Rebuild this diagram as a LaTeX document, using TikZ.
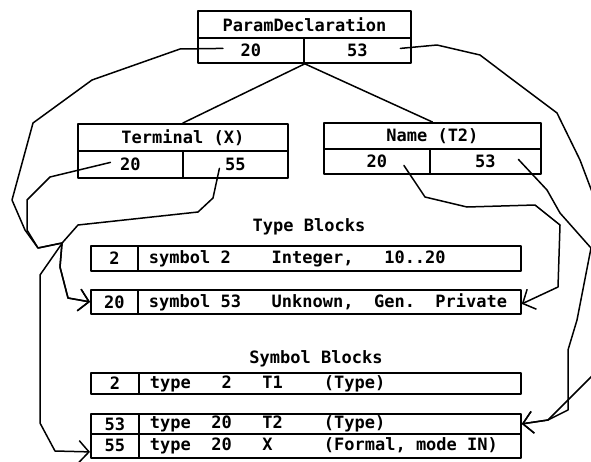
\documentclass[tikz,border=0pt]{standalone}
\usepackage{fontspec}
\usepackage{tikz}
\usetikzlibrary{calc,arrows.meta}
\newfontfamily\blkfont{DejaVu Sans Mono}[WordSpace={1,0,0}]
\newcommand\blk{\blkfont\bfseries\fontsize{17}{20}\selectfont\frenchspacing}
\newcommand\pad[1]{\hspace*{#1\fontcharwd\font`0}}

\begin{document}
\begin{tikzpicture}[x=1pt,y=-1pt,>={Straight Barb[length=10pt,width=22pt]},
      line cap=round,line join=round,
      cell/.style={draw,line width=1.8pt,inner sep=0pt,anchor=north west,font=\blk},
      body/.style={cell,inner xsep=11pt,text width=#1,align=left},
      link/.style={line width=1.5pt,->}]
    \useasboundingbox (0,0) rectangle (591,461);
    \clip (0,0) rectangle (591,461);
    % tree
    \node[cell,minimum width=213pt,minimum height=27pt] (pd) at (197,10) {ParamDeclaration};
    \node[cell,minimum width=106pt,minimum height=25pt] (pd20) at (197,37) {20};
    \node[cell,minimum width=107pt,minimum height=25pt] (pd53) at (303,37) {53};
    \node[cell,minimum width=210pt,minimum height=27pt] (tm) at (77,123) {Terminal\pad{1}(X)};
    \node[cell,minimum width=105pt,minimum height=27pt] (tm20) at (77,150) {20};
    \node[cell,minimum width=105pt,minimum height=27pt] (tm55) at (182,150) {55};
    \node[cell,minimum width=217pt,minimum height=26pt] (nm) at (323,122) {Name\pad{1}(T2)};
    \node[cell,minimum width=106pt,minimum height=25pt] (nm20) at (323,148) {20};
    \node[cell,minimum width=111pt,minimum height=25pt] (nm53) at (429,148) {53};
    \draw[line width=1.5pt] (pd20.south east) -- (tm.north) (pd20.south east) -- (nm.north);
    % type blocks
    \node[font=\blk] (tlbl) at (309,227) {Type\pad{1}Blocks};
    \node[cell,minimum width=47pt,minimum height=25pt] (ty2) at (90,245) {2};
    \node[body=361pt,minimum height=25pt] (tb2) at (137,245) {symbol\pad{1}2\pad{4}Integer,\pad{3}10..20};
    \node[cell,minimum width=47pt,minimum height=24pt] (ty20) at (90,289) {20};
    \node[body=361pt,minimum height=24pt] (tb20) at (137,289) {symbol\pad{1}53\pad{3}Unknown,\pad{2}Gen.\pad{2}Private};
    % symbol blocks
    \node[font=\blk] (slbl) at (316,359) {Symbol\pad{1}Blocks};
    \node[cell,minimum width=48pt,minimum height=21pt] (sy2) at (90,372) {2};
    \node[body=360pt,minimum height=21pt] (sb2) at (138,372) {type\pad{3}2\pad{3}T1\pad{4}(Type)};
    \node[cell,minimum width=48pt,minimum height=20pt] (sy53) at (90,413) {53};
    \node[body=360pt,minimum height=20pt] (sb53) at (138,413) {type\pad{2}20\pad{3}T2\pad{4}(Type)};
    \node[cell,minimum width=48pt,minimum height=24pt] (sy55) at (90,433) {55};
    \node[body=360pt,minimum height=24pt] (sb55) at (138,433) {type\pad{2}20\pad{3}X\pad{5}(Formal,\pad{1}mode\pad{1}IN)};
    % pointers
    \draw[link] ($(pd20)+(-28,-2)$) -- (180,49) -- (92,80) -- (33,123) -- (12,200) -- (25,230)
      -- (38,248) -- (62,243) -- (60,267) -- (68,298) -- (ty20.west);
    \draw[link] ($(tm20)+(-20,-2)$) -- (50,177) -- (27,200) -- (27,230) -- (38,248) -- (62,243)
      -- (60,267) -- (68,298) -- (ty20.west);
    \draw[link] ($(tm55)+(-16,4)$) -- (213,198) -- (198,212) -- (78,225) -- (63,242) -- (40,275)
      -- (40,423) -- (55,451) -- ([yshift=-6pt]sy55.west);
    \draw[link] ($(pd53)+(43,-2)$) -- (437,45) -- (480,55) -- (513,80) -- (557,113) -- (580,160)
      -- (597,205) -- (597,370) -- (590,378) -- (548,420) -- (sb53.east);
    \draw[link] ($(nm53)+(33,-2)$) -- (547,190) -- (560,213) -- (591,248) -- (577,320) -- (568,350)
      -- (568,410) -- (548,420) -- (sb53.east);
    \draw[link] ($(nm20)+(27,4)$) -- (425,197) -- (467,207) -- (535,205) -- (560,225) -- (558,287)
      -- ([yshift=-2pt]tb20.east);
  \end{tikzpicture}
\end{document}
